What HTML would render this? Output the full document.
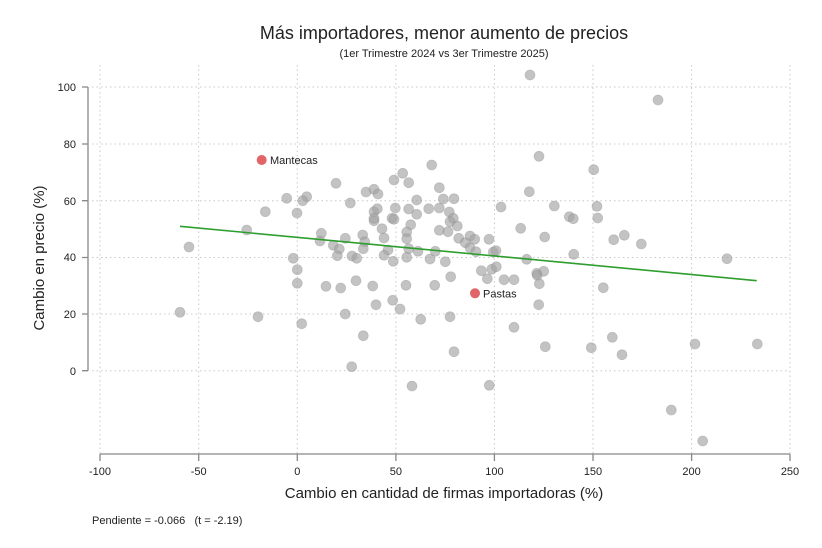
<!DOCTYPE html>
<html><head><meta charset="utf-8"><style>body{margin:0;background:#fff}svg{display:block;font-family:"Liberation Sans",sans-serif}</style></head><body>
<svg width="822" height="548" viewBox="0 0 822 548">
<text x="444" y="39" font-size="18" text-anchor="middle" fill="#222">Más importadores, menor aumento de precios</text>
<text x="444" y="57" font-size="11" text-anchor="middle" fill="#222">(1er Trimestre 2024 vs 3er Trimestre 2025)</text>
<g stroke="#c8c8c8" stroke-width="1" stroke-dasharray="1.5,3">
<line x1="92" y1="87" x2="790" y2="87"/><line x1="92" y1="144" x2="790" y2="144"/><line x1="92" y1="200.7" x2="790" y2="200.7"/><line x1="92" y1="257.5" x2="790" y2="257.5"/><line x1="92" y1="314" x2="790" y2="314"/><line x1="92" y1="370.7" x2="790" y2="370.7"/>
<line x1="100" y1="65" x2="100" y2="454"/><line x1="198.7" y1="65" x2="198.7" y2="454"/><line x1="297.3" y1="65" x2="297.3" y2="454"/><line x1="395.9" y1="65" x2="395.9" y2="454"/><line x1="494.4" y1="65" x2="494.4" y2="454"/><line x1="593" y1="65" x2="593" y2="454"/><line x1="691.6" y1="65" x2="691.6" y2="454"/><line x1="790" y1="65" x2="790" y2="454"/>
</g>
<g stroke="#888" stroke-width="1.3" fill="none">
<path d="M88 87V370.7M82 87H88M82 144H88M82 200.7H88M82 257.5H88M82 314H88M82 370.7H88"/>
<path d="M100 454H790M100 454V461M198.7 454V461M297.3 454V461M395.9 454V461M494.4 454V461M593 454V461M691.6 454V461M790 454V461"/>
</g>
<g font-size="11" fill="#222" text-anchor="end">
<text x="76" y="91">100</text><text x="76" y="148">80</text><text x="76" y="205">60</text><text x="76" y="261">40</text><text x="76" y="318">20</text><text x="76" y="375">0</text>
</g>
<g font-size="11" fill="#222" text-anchor="middle">
<text x="100" y="475">-100</text><text x="198.7" y="475">-50</text><text x="297.3" y="475">0</text><text x="395.9" y="475">50</text><text x="494.4" y="475">100</text><text x="593" y="475">150</text><text x="691.6" y="475">200</text><text x="790" y="475">250</text>
</g>
<text x="444" y="498" font-size="15" text-anchor="middle" fill="#222">Cambio en cantidad de firmas importadoras (%)</text>
<text transform="translate(44,258) rotate(-90)" font-size="15" text-anchor="middle" fill="#222">Cambio en precio (%)</text>
<text x="92" y="524" font-size="11" fill="#222" xml:space="preserve">Pendiente = -0.066   (t = -2.19)</text>
<g fill="#a3a3a3" fill-opacity="0.65" stroke="#888" stroke-opacity="0.35" stroke-width="0.8">
<circle cx="431.7" cy="165" r="5"/><circle cx="402.7" cy="173.3" r="5"/><circle cx="394" cy="180" r="5"/><circle cx="408.7" cy="182.7" r="5"/><circle cx="336" cy="183.3" r="5"/><circle cx="439.3" cy="187.7" r="5"/><circle cx="366" cy="192" r="5"/><circle cx="374" cy="189.3" r="5"/><circle cx="378" cy="194" r="5"/><circle cx="286.7" cy="198.3" r="5"/><circle cx="306.7" cy="196.7" r="5"/><circle cx="302.7" cy="200.7" r="5"/><circle cx="416.7" cy="200" r="5"/><circle cx="443.3" cy="199" r="5"/><circle cx="454" cy="198.7" r="5"/><circle cx="350.3" cy="203" r="5"/><circle cx="265.3" cy="211.7" r="5"/><circle cx="297" cy="213" r="5"/><circle cx="374" cy="211.7" r="5"/><circle cx="377.3" cy="208.7" r="5"/><circle cx="395.3" cy="208" r="5"/><circle cx="408.7" cy="209" r="5"/><circle cx="428.7" cy="208.7" r="5"/><circle cx="439.3" cy="208" r="5"/><circle cx="449.3" cy="212" r="5"/><circle cx="416.7" cy="214.3" r="5"/><circle cx="374" cy="220.7" r="5"/><circle cx="374" cy="218.3" r="5"/><circle cx="392" cy="218.3" r="5"/><circle cx="394" cy="219.3" r="5"/><circle cx="453.3" cy="218.3" r="5"/><circle cx="450" cy="221.7" r="5"/><circle cx="457.3" cy="226" r="5"/><circle cx="410.7" cy="224.7" r="5"/><circle cx="382" cy="228.7" r="5"/><circle cx="246.7" cy="230" r="5"/><circle cx="321.3" cy="233.3" r="5"/><circle cx="362.7" cy="235" r="5"/><circle cx="406.7" cy="232" r="5"/><circle cx="439.3" cy="230.3" r="5"/><circle cx="448" cy="231.7" r="5"/><circle cx="406.7" cy="238.7" r="5"/><circle cx="384" cy="238" r="5"/><circle cx="458.7" cy="238.3" r="5"/><circle cx="470" cy="236" r="5"/><circle cx="474.7" cy="239.3" r="5"/><circle cx="489" cy="239.3" r="5"/><circle cx="345.3" cy="238.3" r="5"/><circle cx="320" cy="241" r="5"/><circle cx="364.7" cy="241.7" r="5"/><circle cx="465.3" cy="242.7" r="5"/><circle cx="189" cy="247" r="5"/><circle cx="333.3" cy="245.3" r="5"/><circle cx="339.3" cy="249" r="5"/><circle cx="363.3" cy="248.7" r="5"/><circle cx="470" cy="247.7" r="5"/><circle cx="408.7" cy="248.7" r="5"/><circle cx="388" cy="250" r="5"/><circle cx="418" cy="251.3" r="5"/><circle cx="435.3" cy="251.3" r="5"/><circle cx="476" cy="251.7" r="5"/><circle cx="337.3" cy="255.7" r="5"/><circle cx="352" cy="256" r="5"/><circle cx="356.7" cy="258.3" r="5"/><circle cx="384" cy="255.3" r="5"/><circle cx="406.7" cy="257.3" r="5"/><circle cx="430" cy="259" r="5"/><circle cx="293.3" cy="258.3" r="5"/><circle cx="393.3" cy="261.3" r="5"/><circle cx="445.3" cy="261.7" r="5"/><circle cx="297.3" cy="269.7" r="5"/><circle cx="481.3" cy="270.7" r="5"/><circle cx="450.7" cy="276.7" r="5"/><circle cx="487.3" cy="278.7" r="5"/><circle cx="297.3" cy="283.3" r="5"/><circle cx="326" cy="286.3" r="5"/><circle cx="340.7" cy="288" r="5"/><circle cx="356" cy="280.7" r="5"/><circle cx="372.7" cy="286" r="5"/><circle cx="406" cy="285.3" r="5"/><circle cx="434.7" cy="285.3" r="5"/><circle cx="392.7" cy="300.3" r="5"/><circle cx="376" cy="304.7" r="5"/><circle cx="400" cy="309" r="5"/><circle cx="180" cy="312.3" r="5"/><circle cx="258" cy="316.7" r="5"/><circle cx="345.3" cy="314" r="5"/><circle cx="420.7" cy="319.3" r="5"/><circle cx="450" cy="316.7" r="5"/><circle cx="301.7" cy="323.7" r="5"/><circle cx="363.3" cy="335.7" r="5"/><circle cx="454" cy="351.7" r="5"/><circle cx="351.7" cy="366.7" r="5"/><circle cx="412" cy="386" r="5"/>
<circle cx="530" cy="75" r="5"/><circle cx="658" cy="100" r="5"/><circle cx="539" cy="156.3" r="5"/><circle cx="593.7" cy="169.7" r="5"/><circle cx="529.3" cy="191.7" r="5"/><circle cx="501" cy="207" r="5"/><circle cx="554.3" cy="206" r="5"/><circle cx="569.3" cy="216.7" r="5"/><circle cx="573.3" cy="218.7" r="5"/><circle cx="597" cy="206.3" r="5"/><circle cx="597.7" cy="218" r="5"/><circle cx="520.7" cy="228.3" r="5"/><circle cx="544.7" cy="237" r="5"/><circle cx="493.3" cy="252" r="5"/><circle cx="496" cy="250.7" r="5"/><circle cx="526.7" cy="259.3" r="5"/><circle cx="573.7" cy="254.3" r="5"/><circle cx="613.7" cy="239.7" r="5"/><circle cx="624.3" cy="235.3" r="5"/><circle cx="641.3" cy="244" r="5"/><circle cx="727" cy="258.7" r="5"/><circle cx="491.7" cy="269.3" r="5"/><circle cx="496.3" cy="266.7" r="5"/><circle cx="504" cy="279.7" r="5"/><circle cx="514" cy="279.7" r="5"/><circle cx="536.7" cy="273.3" r="5"/><circle cx="537.3" cy="275.3" r="5"/><circle cx="543.7" cy="271.3" r="5"/><circle cx="539.3" cy="283.7" r="5"/><circle cx="603.3" cy="287.7" r="5"/><circle cx="538.7" cy="304.7" r="5"/><circle cx="514" cy="327.3" r="5"/><circle cx="545.3" cy="346.7" r="5"/><circle cx="591.3" cy="347.7" r="5"/><circle cx="612.3" cy="337.3" r="5"/><circle cx="622" cy="354.7" r="5"/><circle cx="695" cy="344" r="5"/><circle cx="757.3" cy="344" r="5"/><circle cx="489.3" cy="385.3" r="5"/><circle cx="671.3" cy="410" r="5"/><circle cx="702.7" cy="441" r="5"/>
</g>
<line x1="180" y1="226.3" x2="756.7" y2="280.7" stroke="#2e9e2e" stroke-width="1.6"/>
<circle cx="261.7" cy="160" r="5" fill="#e06468"/><text x="270" y="164" font-size="11" fill="#222">Mantecas</text>
<circle cx="475" cy="293.3" r="5" fill="#e06468"/><text x="483" y="297.5" font-size="11" fill="#222">Pastas</text>
</svg>
</body></html>
